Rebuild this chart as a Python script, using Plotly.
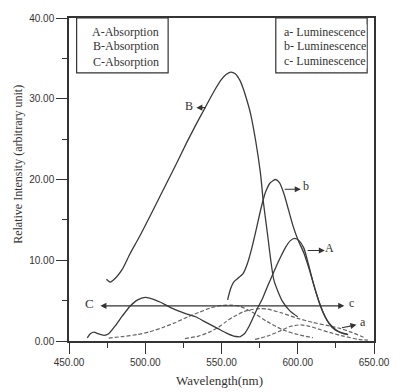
import plotly.graph_objects as go

# ---------------- data ----------------
# Absorption B (solid)
B_x = [474.6, 477, 481, 485, 490, 495, 500, 507, 512, 520, 527, 533, 539, 545, 550, 553, 556,
       559, 562, 564, 567, 569, 572.4, 575.6, 577.4, 580, 584.4, 590, 595, 600]
B_y = [7.65, 7.3, 7.9, 8.9, 10.8, 12.5, 14.3, 16.9, 18.8, 21.8, 24.5, 26.7, 28.8, 30.9, 32.4, 33.0, 33.3,
       33.1, 32.3, 31.4, 29.6, 28.2, 24.8, 20.7, 17.3, 13.5, 7.5, 4.9, 3.7, 3.0]

# Absorption C (solid)
C_x = [462, 464, 466.5, 469, 473, 476, 480, 485, 490, 495, 500, 505, 510, 516, 522, 528,
       533, 538, 543, 548, 553, 558, 562]
C_y = [0.4, 0.9, 1.1, 0.9, 0.7, 0.9, 1.8, 3.1, 4.3, 5.1, 5.4, 5.2, 4.8, 4.2, 3.7, 3.3,
       3.0, 2.5, 2.0, 1.5, 1.0, 0.6, 0.5]

# Absorption A (solid)
A_x = [562, 565, 568, 571, 574, 577, 580, 583, 586, 589, 592, 595, 598, 601, 604, 607,
       610, 613, 616, 619, 622, 626, 630, 633]
A_y = [0.5, 0.9, 1.8, 3.0, 4.2, 5.3, 6.7, 8.0, 9.3, 10.5, 11.6, 12.4, 12.7, 12.4, 11.5, 9.5,
       7.3, 5.4, 3.8, 2.6, 1.8, 1.2, 0.9, 0.8]

# Luminescence b (solid)
b_x = [554, 556, 558, 561, 564, 567, 570, 573, 576, 579, 582, 585.5, 588, 591, 594, 597,
       600, 604, 608, 612, 615, 618, 621, 625, 629, 633]
b_y = [5.1, 6.5, 7.3, 7.8, 8.3, 9.6, 11.6, 14.0, 16.5, 18.5, 19.6, 20.0, 19.6, 18.2, 16.2, 14.2,
       12.6, 10.9, 8.6, 6.0, 4.3, 3.0, 2.1, 1.4, 1.0, 0.8]

# Luminescence c (dashed, broad)
c_x = [476, 485, 495, 503, 512, 520, 528, 536, 543, 550, 556, 562, 570, 580, 590, 600, 610]
c_y = [0.35, 0.55, 0.8, 1.15, 1.7, 2.3, 3.0, 3.6, 4.1, 4.4, 4.45, 4.3, 3.6, 2.4, 1.4, 0.8, 0.4]

# further dashed luminescence component
d_x = [526, 535, 542, 548, 553, 558, 564, 570, 575, 580, 589, 600, 610, 620, 627, 635, 644]
d_y = [0.3, 0.6, 1.1, 1.7, 2.4, 3.0, 3.6, 3.9, 4.0, 3.95, 3.5, 2.8, 2.3, 1.9, 1.6, 1.1, 0.4]

# Luminescence a (dashed, small)
a_x = [572, 580, 588, 595, 602, 608, 615, 622, 630, 640, 646]
a_y = [0.2, 0.6, 1.2, 1.8, 2.0, 1.8, 1.4, 1.0, 0.6, 0.2, 0.1]

x_ticks = [450, 500, 550, 600, 650]
x_tick_text = ["450.00", "500.00", "550.00", "600.00", "650.00"]
y_ticks = [0, 10, 20, 30, 40]
y_tick_text = ["0.00", "10.00", "20.00", "30.00", "40.00"]

left_legend = ["A-Absorption", "B-Absorption", "C-Absorption"]
right_legend = ["a- Luminescence", "b- Luminescence", "c- Luminescence"]

# ---------------- figure ----------------
SERIF = "Liberation Serif, Times New Roman, serif"
SANS = "Liberation Sans, Arial, sans-serif"
INK = "#333333"

fig = go.Figure()

def add_curve(x, y, dash="solid", color="#3a3a3a", width=1.3):
    fig.add_trace(go.Scatter(x=x, y=y, mode="lines",
                             line=dict(color=color, width=width, dash=dash,
                                       shape="spline", smoothing=0.6),
                             showlegend=False, hoverinfo="skip"))

add_curve(c_x, c_y, dash="4px,2px", color="#666666", width=1.2)
add_curve(d_x, d_y, dash="4px,2px", color="#666666", width=1.2)
add_curve(a_x, a_y, dash="4px,2px", color="#666666", width=1.2)
add_curve(C_x, C_y)
add_curve(A_x, A_y)
add_curve(B_x, B_y)
add_curve(b_x, b_y)

annotations = []

def arrow(tail, tip, side="end"):
    annotations.append(dict(x=tip[0], y=tip[1], ax=tail[0], ay=tail[1],
                            xref="x", yref="y", axref="x", ayref="y",
                            text="", showarrow=True, arrowhead=2, arrowsize=1.1,
                            arrowwidth=1.1, arrowcolor=INK, arrowside=side,
                            startarrowhead=2, startarrowsize=1.1))

def label(x, y, t, size=12, xanchor="center"):
    annotations.append(dict(x=x, y=y, xref="x", yref="y", text=t, showarrow=False,
                            xanchor=xanchor, yanchor="middle",
                            font=dict(family=SERIF, size=size, color=INK)))

arrow((540.5, 28.9), (533.5, 28.9))
label(528.5, 29.1, "B", 12)
arrow((590.5, 18.8), (602, 18.8))
label(605.5, 19.2, "b", 12)
arrow((605.5, 11.2), (617.8, 11.2))
label(621, 11.5, "A", 12)
arrow((469.6, 4.35), (630.5, 4.35), side="end+start")
label(463.5, 4.6, "C", 13)
label(635, 4.7, "c", 12)
arrow((628, 1.6), (638.5, 2.0))
label(642.5, 2.4, "a", 12)

# legend boxes text
for t, yy in zip(left_legend, [38.27, 36.54, 34.57]):
    label(487.3, yy, t, 12)
for t, yy in zip(right_legend, [38.27, 36.54, 34.69]):
    annotations.append(dict(x=590.4, y=yy, xref="x", yref="y", text=t, showarrow=False,
                            xanchor="left", yanchor="middle", bgcolor="white", borderpad=0,
                            font=dict(family=SERIF, size=12, color=INK)))

# axis titles
annotations.append(dict(x=-0.170, y=0.546, xref="paper", yref="paper",
                        xanchor="center", yanchor="middle",
                        text="Relative Intensity (arbitrary unit)", textangle=-90,
                        showarrow=False, font=dict(family=SERIF, size=12, color=INK)))
annotations.append(dict(x=0.495, y=-0.123, xref="paper", yref="paper",
                        xanchor="center", yanchor="middle",
                        text="Wavelength(nm)", showarrow=False,
                        font=dict(family=SERIF, size=13, color=INK)))

shapes = [
    dict(type="rect", xref="x", yref="y", x0=455.0, x1=515.0, y0=33.2, y1=40,
         line=dict(color=INK, width=1.2), layer="above"),
    dict(type="rect", xref="x", yref="y", x0=585.6, x1=645.5, y0=33.2, y1=40,
         line=dict(color=INK, width=1.2), layer="below"),
]

fig.update_layout(
    width=402, height=392,
    margin=dict(l=69, r=16, t=17, b=51),
    paper_bgcolor="white", plot_bgcolor="white",
    annotations=annotations, shapes=shapes,
    xaxis=dict(range=[450, 650], tickvals=x_ticks, ticktext=x_tick_text,
               showgrid=False, zeroline=False, showline=True, linecolor=INK, linewidth=1.5,
               mirror=True, ticks="outside", ticklen=11, tickwidth=1.3, tickcolor=INK,
               minor=dict(dtick=25, tick0=450, ticks="outside", ticklen=5, tickwidth=1.2,
                          tickcolor=INK, showgrid=False),
               tickfont=dict(family=SANS, size=10, color=INK)),
    yaxis=dict(range=[0, 40], tickvals=y_ticks, ticktext=y_tick_text,
               showgrid=False, zeroline=False, showline=True, linecolor=INK, linewidth=1.5,
               mirror=True, ticks="outside", ticklen=11, tickwidth=1.3, tickcolor=INK,
               minor=dict(dtick=5, tick0=0, ticks="outside", ticklen=5, tickwidth=1.2,
                          tickcolor=INK, showgrid=False),
               tickfont=dict(family=SANS, size=10, color=INK)),
)

fig.write_html("out.html")
